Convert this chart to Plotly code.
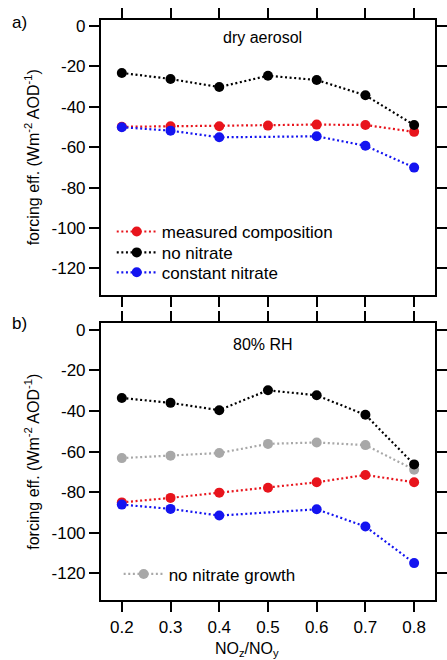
import plotly.graph_objects as go

x_vals = [0.2, 0.3, 0.4, 0.5, 0.6, 0.7, 0.8]

# panel a: dry aerosol
dry_measured = [-49.9, -49.6, -49.6, -49.3, -48.8, -49.0, -52.4]
dry_no_nitrate = [-23.2, -26.2, -30.2, -24.6, -26.7, -34.3, -49.0]
dry_constant = [-50.1, -51.8, -55.1, None, -54.6, -59.3, -70.1]

# panel b: 80% RH
rh_measured = [-85.0, -82.8, -80.2, -77.8, -75.1, -71.5, -75.1]
rh_no_nitrate = [-33.6, -36.0, -39.6, -29.8, -32.3, -41.9, -66.3]
rh_constant = [-86.1, -88.2, -91.5, None, -88.4, -96.9, -114.9]
rh_no_growth = [-63.2, -62.0, -60.7, -56.2, -55.5, -56.8, -68.9]

y_ticks = [0, -20, -40, -60, -80, -100, -120]
y_ticktext = ["0", "-20", "-40", "-60", "-80", "-100", "-120"]
x_ticks = [0.2, 0.3, 0.4, 0.5, 0.6, 0.7, 0.8]
x_ticktext = ["0.2", "0.3", "0.4", "0.5", "0.6", "0.7", "0.8"]

RED = "#e8141c"
BLACK = "#000000"
BLUE = "#1414f0"
GREY = "#a8a8a8"
FONT = "Liberation Sans, Arial, Helvetica, sans-serif"
DASH = "2px,2.6px"

fig = go.Figure()

def add(y, color, name, xa, ya, legend="legend", show=False):
    fig.add_trace(go.Scatter(
        x=x_vals, y=y, name=name, mode="lines+markers", connectgaps=True,
        line=dict(color=color, width=2.2, dash=DASH),
        marker=dict(color=color, size=10),
        xaxis=xa, yaxis=ya, showlegend=show, legend=legend,
    ))

add(dry_measured, RED, "measured composition", "x", "y", "legend", True)
add(dry_no_nitrate, BLACK, "no nitrate", "x", "y", "legend2", True)
add(dry_constant, BLUE, "constant nitrate", "x", "y", "legend3", True)

add(rh_no_growth, GREY, "no nitrate growth", "x2", "y2", "legend4", True)
add(rh_no_nitrate, BLACK, "no nitrate", "x2", "y2")
add(rh_measured, RED, "measured composition", "x2", "y2")
add(rh_constant, BLUE, "constant nitrate", "x2", "y2")

W, H = 447, 660
xdom = [102 / W, 440 / W]
ydom_a = [1 - 293.3 / H, 1 - 16.7 / H]
ydom_b = [1 - 600 / H, 1 - 321.7 / H]

common_x = dict(
    range=[0.157, 0.843], tickvals=x_ticks, ticktext=x_ticktext,
    ticks="outside", ticklen=10, tickwidth=1.8, tickcolor="black",
    showline=True, linecolor="black", linewidth=1.8, mirror="allticks",
    showgrid=False, zeroline=False, domain=xdom,
    tickfont=dict(size=17, color="black", family=FONT),
)
common_y = dict(
    range=[-133.2, 3.2], tickvals=y_ticks, ticktext=y_ticktext,
    ticks="outside", ticklen=10, tickwidth=1.8, tickcolor="black",
    showline=True, linecolor="black", linewidth=1.8, mirror="allticks",
    showgrid=False, zeroline=False,
    tickfont=dict(size=17, color="black", family=FONT),
    title=dict(text="forcing eff. (Wm<sup>-2</sup> AOD<sup>-1</sup>)",
               font=dict(size=16, color="black", family=FONT), standoff=8),
)

def leg(xpx, ypx):
    return dict(x=xpx / W, y=1 - ypx / H, xanchor="left", yanchor="middle",
                bgcolor="rgba(0,0,0,0)", font=dict(size=17, family=FONT, color="black"),
                itemwidth=40, borderwidth=0)

def note(text, xpx, ypx, size):
    return dict(text=text, x=xpx / W, y=1 - ypx / H, xref="paper", yref="paper",
                xanchor="center", yanchor="middle", showarrow=False,
                font=dict(size=size, family=FONT, color="black"))

fig.update_layout(
    width=W, height=H,
    margin=dict(l=0, r=0, t=0, b=0),
    paper_bgcolor="white", plot_bgcolor="white",
    font=dict(family=FONT, color="black", size=16),
    xaxis=dict(**common_x, anchor="y", showticklabels=False),
    yaxis=dict(**common_y, domain=ydom_a, anchor="x"),
    xaxis2=dict(**common_x, anchor="y2"),
    yaxis2=dict(**common_y, domain=ydom_b, anchor="x2"),
    legend=leg(113, 230),
    legend2=leg(113, 251),
    legend3=leg(113, 271),
    legend4=leg(120, 574),
    annotations=[
        note("dry aerosol", 265, 35, 16),
        note("80% RH", 265.5, 342.7, 16),
        note("a)", 20, 20, 17),
        note("b)", 20, 322, 17),
        note("NO<sub>z</sub>/NO<sub>y</sub>", 250, 649, 16),
    ],
)

fig.write_html("out.html", config={"displayModeBar": False},
               post_script="document.body.style.margin='0';document.body.style.overflow='hidden';")
